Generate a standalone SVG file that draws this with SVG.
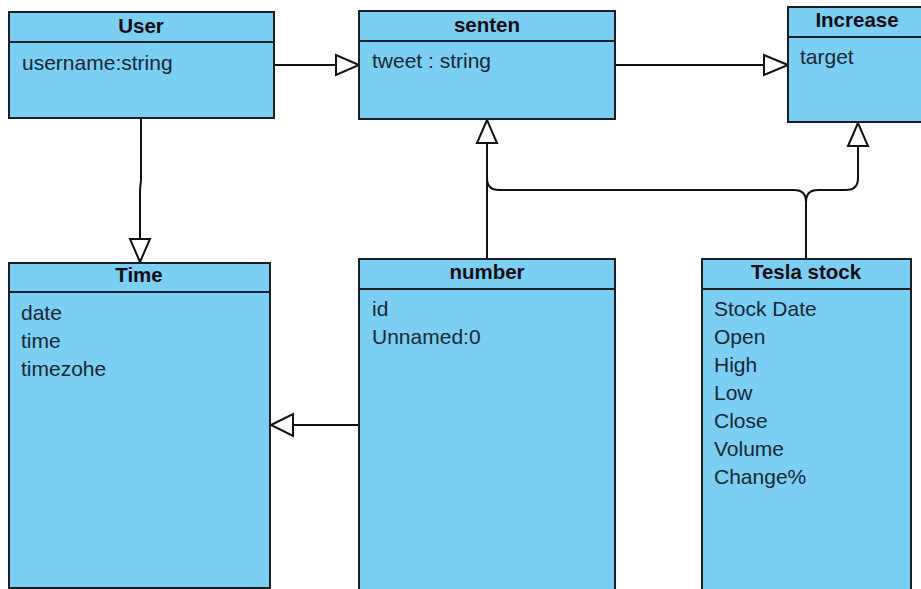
<svg xmlns="http://www.w3.org/2000/svg" width="921" height="589" viewBox="0 0 921 589">
<defs>
<style>
.box{fill:#7acff3;stroke:#1a1f26;stroke-width:2}
.sep{stroke:#1a1f26;stroke-width:2}
.title{font-family:"Liberation Sans",Arial,sans-serif;font-size:20.5px;font-weight:bold;fill:#0d0d12;text-anchor:middle}
.attr{font-family:"Liberation Sans",Arial,sans-serif;font-size:21px;fill:#1b2633}
.conn{fill:none;stroke:#111;stroke-width:2}
.tri{fill:#fff;stroke:#111;stroke-width:2}
</style>
</defs>
<rect width="921" height="589" fill="#fff"/>
<g id="connectors">
<path class="conn" d="M274 65 H336"/>
<polygon class="tri" points="359,65 336,55 336,75"/>
<path class="conn" d="M615 65 H764"/>
<polygon class="tri" points="788,65 764,55 764,75"/>
<path class="conn" d="M141 118 V180 L140 190 V239"/>
<polygon class="tri" points="140,262 130,239 150,239"/>
<path class="conn" d="M359 425 H293"/>
<polygon class="tri" points="271,425 293,414 293,436"/>
<path class="conn" d="M487 259 V143"/>
<polygon class="tri" points="487,120 477,143 497,143"/>
<path class="conn" d="M806 259 V202 Q806 190 794 190 H499 Q487 190 487 178"/>
<path class="conn" d="M806 202 Q806 190 818 190 H846 Q858 190 858 178 V146"/>
<polygon class="tri" points="858,123 848,146 868,146"/>
</g>
<g id="user">
<rect class="box" x="9" y="12" width="265" height="106"/>
<line class="sep" x1="9" y1="42" x2="274" y2="42"/>
<text class="title" x="141" y="33">User</text>
<text class="attr" x="22" y="70">username:string</text>
</g>
<g id="senten">
<rect class="box" x="359" y="11" width="256" height="108"/>
<line class="sep" x1="359" y1="41" x2="615" y2="41"/>
<text class="title" x="487" y="32">senten</text>
<text class="attr" x="372" y="68">tweet : string</text>
</g>
<g id="increase">
<rect class="box" x="788" y="7" width="140" height="115"/>
<line class="sep" x1="788" y1="37" x2="928" y2="37"/>
<text class="title" x="857" y="27">Increase</text>
<text class="attr" x="800" y="64">target</text>
</g>
<g id="time">
<rect class="box" x="9" y="263" width="261" height="325"/>
<line class="sep" x1="9" y1="292" x2="270" y2="292"/>
<text class="title" x="139" y="282">Time</text>
<text class="attr" x="21" y="320">date</text>
<text class="attr" x="21" y="348">time</text>
<text class="attr" x="21" y="376">timezohe</text>
</g>
<g id="number">
<rect class="box" x="359" y="259" width="256" height="334"/>
<line class="sep" x1="359" y1="289" x2="615" y2="289"/>
<text class="title" x="487" y="279">number</text>
<text class="attr" x="372" y="316">id</text>
<text class="attr" x="372" y="344">Unnamed:0</text>
</g>
<g id="tesla">
<rect class="box" x="702" y="259" width="209" height="334"/>
<line class="sep" x1="702" y1="289" x2="911" y2="289"/>
<text class="title" x="806" y="279">Tesla stock</text>
<text class="attr" x="714" y="316">Stock Date</text>
<text class="attr" x="714" y="344">Open</text>
<text class="attr" x="714" y="372">High</text>
<text class="attr" x="714" y="400">Low</text>
<text class="attr" x="714" y="428">Close</text>
<text class="attr" x="714" y="456">Volume</text>
<text class="attr" x="714" y="484">Change%</text>
</g>
</svg>
